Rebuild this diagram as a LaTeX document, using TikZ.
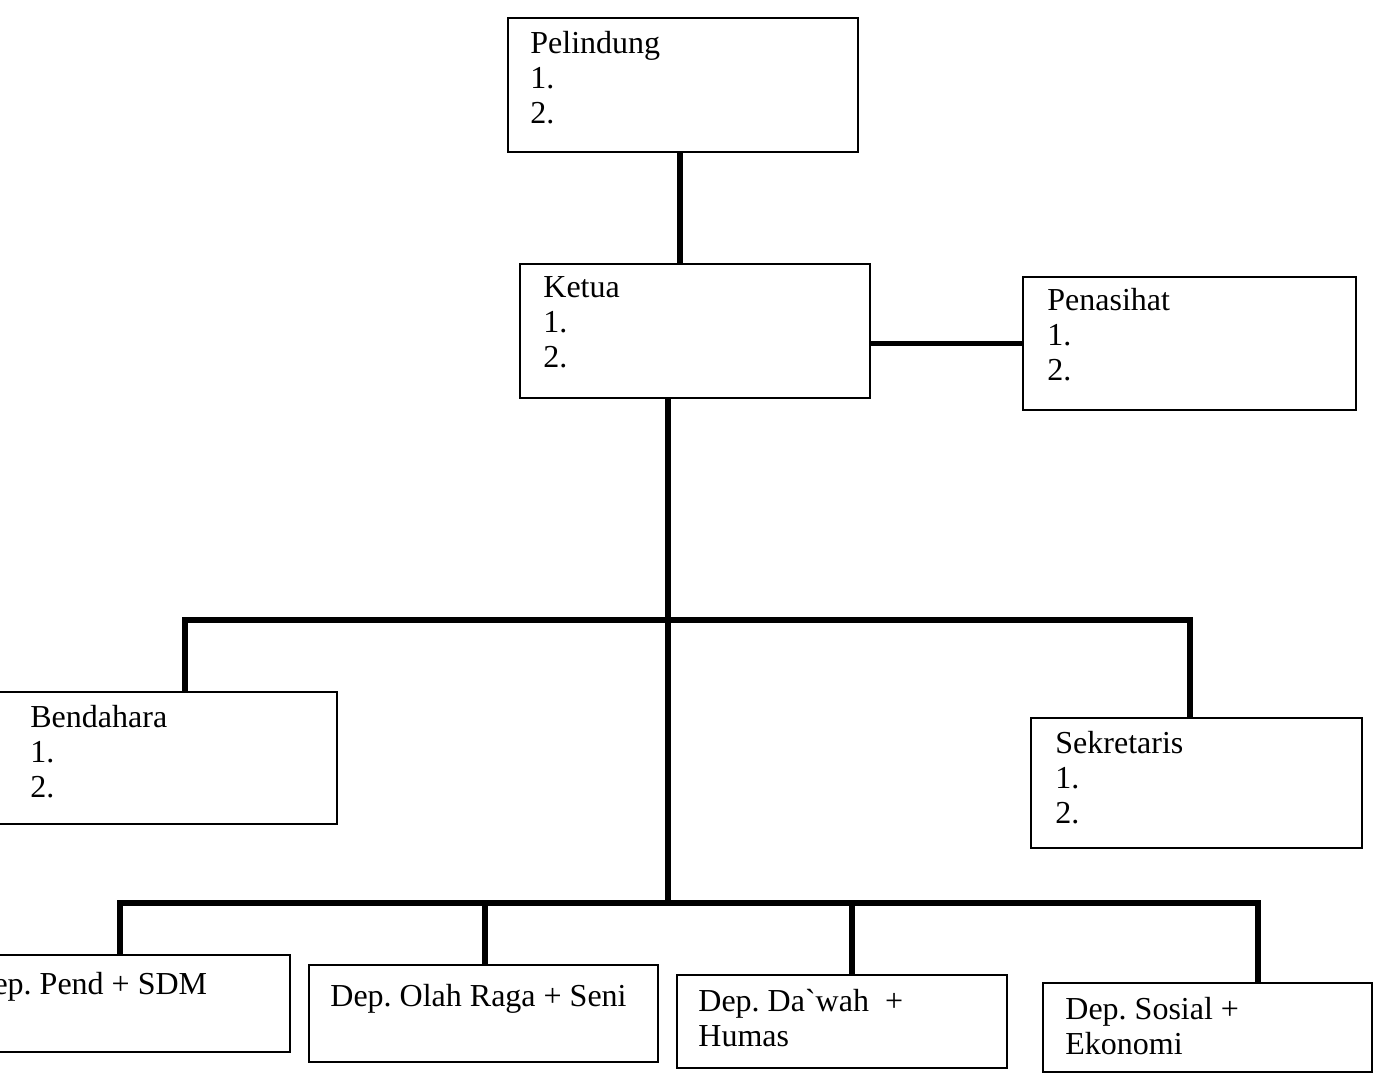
\documentclass[tikz,border=0pt]{standalone}
\usepackage{fontspec}
\setmainfont{Liberation Serif}
\frenchspacing
\begin{document}
\begin{tikzpicture}[x=0.5pt,y=-0.5pt,
  box/.style={draw=black,line width=0.65pt,rectangle,inner sep=0pt,outer sep=0pt},
  txt/.style={anchor=north west,inner sep=0pt,align=left,font=\fontsize{16}{17.5}\selectfont},
  conn/.style={draw=black,line width=2.6pt}]
\useasboundingbox (0,0) rectangle (1374,1075);
\clip (0,0) rectangle (1374,1075);
% boxes
\node[box,minimum width=175pt,minimum height=67pt] (pel) at (683,85) {};
\node[box,minimum width=175pt,minimum height=67pt] (ket) at (695,331) {};
\node[box,minimum width=166.5pt,minimum height=66.5pt] (pen) at (1189.5,343.5) {};
\node[box,minimum width=178.5pt,minimum height=66pt] (ben) at (158.5,758) {};
\node[box,minimum width=165.5pt,minimum height=65pt] (sek) at (1196.5,783) {};
\node[box,minimum width=172pt,minimum height=48.5pt] (d1) at (118,1003.5) {};
\node[box,minimum width=174.5pt,minimum height=48.5pt] (d2) at (483.5,1013.5) {};
\node[box,minimum width=165pt,minimum height=46.5pt] (d3) at (842,1021.5) {};
\node[box,minimum width=164.5pt,minimum height=44.5pt] (d4) at (1207.5,1027.5) {};
% texts
\node[txt] (pelT) at (530,31) {Pelindung\\1.\\2.};
\node[txt] (ketT) at (543,276) {Ketua\\1.\\2.};
\node[txt] (penT) at (1047,288) {Penasihat\\1.\\2.};
\node[txt] (benT) at (30,705) {Bendahara\\1.\\2.};
\node[txt] (sekT) at (1055,731) {Sekretaris\\1.\\2.};
\node[txt] (d1T) at (-30,972) {Dep. Pend + SDM};
\node[txt] (d2T) at (330,984) {Dep. Olah Raga + Seni};
\node[txt] (d3T) at (698,989) {Dep. Da\textasciigrave wah\ \ +\\Humas};
\node[txt] (d4T) at (1065,997) {Dep. Sosial +\\Ekonomi};
% connector coordinates
\coordinate (p1) at (680,200);
\coordinate (h1) at (668,620);
\coordinate (h2) at (668,903);
\coordinate (j1) at (185,620);
\coordinate (j2) at (1190,620);
\coordinate (k1) at (120,903);
\coordinate (k2) at (485,903);
\coordinate (k3) at (852,903);
\coordinate (k4) at (1258,903);
% connectors
\draw[conn] (pel.south -| p1) -- (ket.north -| p1);
\draw[conn] (ket.east |- pen.west) -- (pen.west);
\draw[conn] (ket.south -| h1) -- (h2);
\draw[conn] (ben.north -| j1) -- (j1) -- (j2) -- (sek.north -| j2);
\draw[conn] (d1.north -| k1) -- (k1) -- (k4) -- (d4.north -| k4);
\draw[conn] (k2) -- (d2.north -| k2);
\draw[conn] (k3) -- (d3.north -| k3);
\end{tikzpicture}
\end{document}
